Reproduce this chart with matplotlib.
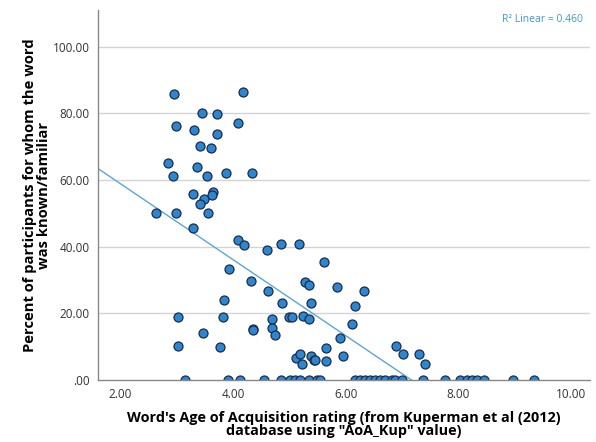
import numpy as np
import matplotlib
matplotlib.use("Agg")
import matplotlib.pyplot as plt

plt.rcParams['font.family'] = ['Open Sans', 'DejaVu Sans']

# Age of acquisition rating (x) and percent known (y)
age_of_acq = [
    2.95, 4.18, 3.44, 3.71, 2.99, 3.30, 4.08, 3.71, 3.41, 3.61,
    2.84, 3.36, 2.93, 3.54, 3.87, 4.33, 3.29, 3.64, 3.48, 3.62,
    3.41, 2.63, 2.99, 3.55, 3.28, 4.08, 4.20, 4.60, 4.85, 5.17,
    3.92, 4.31, 4.62, 4.87, 3.83, 3.03, 3.82, 4.69, 5.00, 3.46,
    4.35, 4.35, 4.69, 4.74, 3.03, 3.76, 5.61, 5.27, 5.34, 5.85,
    6.33, 5.39, 6.17, 5.04, 5.24, 5.34, 6.12, 5.90, 5.65, 6.89,
    5.12, 5.18, 5.38, 5.44, 5.46, 5.23, 5.65, 5.95, 7.01, 7.30,
    7.41,
    # words nobody knew
    3.15, 3.91, 4.12, 4.54, 4.85, 5.01, 5.10, 5.19, 5.34, 5.49,
    5.54, 6.17, 6.25, 6.34, 6.43, 6.52, 6.61, 6.70, 6.82, 6.88,
    7.00, 7.38, 7.76, 8.03, 8.15, 8.24, 8.33, 8.45, 8.98, 9.35,
]
pct_known = [
    85.8, 86.3, 80.1, 79.7, 76.2, 75.1, 77.2, 73.7, 70.1, 69.7,
    65.1, 64.0, 61.1, 61.2, 62.1, 62.1, 55.9, 56.5, 54.2, 55.4,
    52.8, 50.1, 50.1, 50.1, 45.6, 41.9, 40.5, 39.0, 40.9, 40.9,
    33.4, 29.6, 26.6, 23.2, 24.0, 18.9, 18.8, 18.2, 18.8, 14.0,
    15.3, 15.1, 15.5, 13.4, 10.1, 9.9, 35.4, 29.4, 28.4, 28.0,
    26.8, 23.2, 22.3, 18.8, 19.1, 18.3, 16.7, 12.6, 9.6, 10.1,
    6.7, 7.8, 7.3, 6.1, 6.1, 4.8, 5.7, 7.2, 7.8, 7.8,
    4.9,
    0, 0, 0, 0, 0, 0, 0, 0, 0, 0,
    0, 0, 0, 0, 0, 0, 0, 0, 0, 0,
    0, 0, 0, 0, 0, 0, 0, 0, 0, 0,
]

# linear fit as shown on the chart
fit_intercept = 81.7
fit_slope = -11.4
r_squared = 0.460

x_ticks = [2, 4, 6, 8, 10]
x_tick_labels = ['2.00', '4.00', '6.00', '8.00', '10.00']
y_ticks = [0, 20, 40, 60, 80, 100]
y_tick_labels = ['.00', '20.00', '40.00', '60.00', '80.00', '100.00']

fig = plt.figure(figsize=(5.96, 4.42), dpi=100)
ax = fig.add_axes([0.1644, 0.1403, 0.8256, 0.8367])

xmin, xmax = 1.60, 10.34
ax.set_xlim(xmin, xmax)
ax.set_ylim(0, 111)

# horizontal grid
for yt in y_ticks[1:]:
    ax.axhline(yt, color='#d4d4d4', linewidth=1.0, zorder=0)

# fit line
xs = np.array([xmin, xmax])
ax.plot(xs, fit_intercept + fit_slope * xs, color='#5ba6d8', linewidth=1.0, zorder=2)

ax.scatter(age_of_acq, pct_known, s=42, color='#2d86d0', edgecolors='#1c2c48',
           linewidths=0.9, zorder=3)

ax.set_xticks(x_ticks)
ax.set_xticklabels(x_tick_labels)
ax.set_yticks(y_ticks)
ax.set_yticklabels(y_tick_labels)
ax.tick_params(length=0, labelsize=8.5, colors='#333333', pad=6)

for side in ['top', 'right']:
    ax.spines[side].set_visible(False)
for side in ['left', 'bottom']:
    ax.spines[side].set_color('#888888')
    ax.spines[side].set_linewidth(1.0)
    ax.spines[side].set_zorder(4)

ax.set_xlabel('Word\'s Age of Acquisition rating (from Kuperman et al (2012)\n'
              'database using "AoA_Kup" value)',
              fontsize=10.4, fontweight='bold', linespacing=0.95, labelpad=7)
ax.set_ylabel('Percent of participants for whom the word\nwas known/familiar',
              fontsize=10.6, fontweight='bold', linespacing=0.95, labelpad=1.5)

ax.text(0.985, 0.99, 'R² Linear = ' + f'{r_squared:.3f}', transform=ax.transAxes,
        ha='right', va='top', fontsize=7.5, color='#3b9bd6')

fig.savefig('out.png', dpi=100)
